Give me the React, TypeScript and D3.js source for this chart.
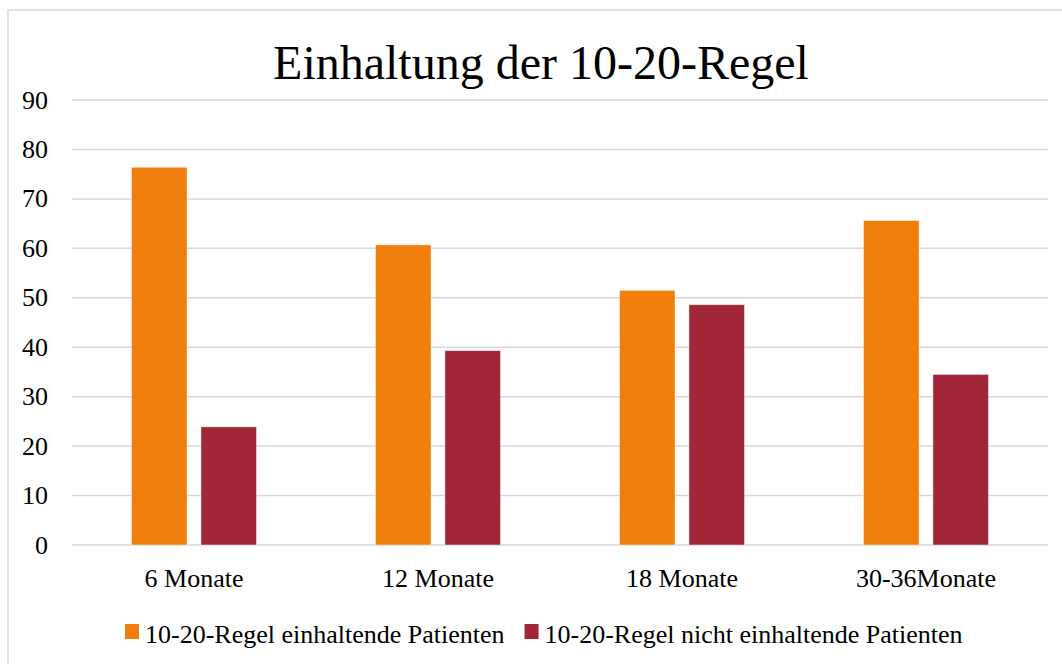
import React from 'react';
import * as d3 from 'd3';

const categories = ['6 Monate', '12 Monate', '18 Monate', '30-36Monate'];
const seriesNames = ['10-20-Regel einhaltende Patienten', '10-20-Regel nicht einhaltende Patienten'];
const compliant = [76.4, 60.7, 51.5, 65.6];
const nonCompliant = [23.9, 39.3, 48.6, 34.5];
const yTicks = [0, 10, 20, 30, 40, 50, 60, 70, 80, 90];
const seriesColors = ['#EF7F0A', '#A02638'];

const width = 1062;
const height = 664;
const font = 'Liberation Serif';

export default function App() {
    const svgRef = React.useRef<SVGSVGElement>(null);

    React.useEffect(() => {
        if (!svgRef.current) return;
        const svg = d3.select(svgRef.current);
        svg.selectAll('*').remove();

        const plotLeft = 72;
        const plotRight = 1048;
        const plotTop = 100;
        const plotBottom = 545;

        // chart frame
        svg.append('rect')
            .attr('x', 8).attr('y', 10)
            .attr('width', 1070).attr('height', 670)
            .attr('fill', 'white')
            .attr('stroke', '#d9d9d9')
            .attr('stroke-width', 1.5);

        svg.append('text')
            .attr('x', 541).attr('y', 79)
            .attr('text-anchor', 'middle')
            .attr('font-family', font)
            .attr('font-size', 48)
            .attr('fill', '#000')
            .text('Einhaltung der 10-20-Regel');

        const y = d3.scaleLinear().domain([0, 90]).range([plotBottom, plotTop]);

        const x0 = d3.scaleBand<string>()
            .domain(categories)
            .range([plotLeft, plotRight])
            .paddingInner(0.4877)
            .paddingOuter(0.4877 / 2);

        const x1 = d3.scaleBand<string>()
            .domain(seriesNames)
            .range([0, x0.bandwidth()])
            .paddingInner(0.2)
            .paddingOuter(0);

        // gridlines
        svg.append('g')
            .selectAll('line')
            .data(yTicks)
            .enter()
            .append('line')
            .attr('x1', plotLeft).attr('x2', plotRight)
            .attr('y1', d => y(d)).attr('y2', d => y(d))
            .attr('stroke', '#d9d9d9')
            .attr('stroke-width', 1.5);

        // y labels
        svg.append('g')
            .selectAll('text')
            .data(yTicks)
            .enter()
            .append('text')
            .attr('x', 48)
            .attr('y', d => y(d) + 8.5)
            .attr('text-anchor', 'end')
            .attr('font-family', font)
            .attr('font-size', 26)
            .attr('fill', '#000')
            .text(d => d);

        const allSeries = [compliant, nonCompliant];

        const groups = svg.append('g')
            .selectAll('g')
            .data(categories)
            .enter()
            .append('g')
            .attr('transform', d => `translate(${x0(d)},0)`);

        groups.selectAll('rect')
            .data((c, ci) => seriesNames.map((s, si) => ({ s, si, v: allSeries[si][ci] })))
            .enter()
            .append('rect')
            .attr('x', d => x1(d.s)!)
            .attr('y', d => y(d.v))
            .attr('width', x1.bandwidth())
            .attr('height', d => y(0) - y(d.v))
            .attr('fill', d => seriesColors[d.si])
            .attr('stroke', '#fff')
            .attr('stroke-opacity', 0.6)
            .attr('stroke-width', 0.75);

        // category labels
        svg.append('g')
            .selectAll('text')
            .data(categories)
            .enter()
            .append('text')
            .attr('x', d => x0(d)! + x0.bandwidth() / 2)
            .attr('y', 587)
            .attr('text-anchor', 'middle')
            .attr('font-family', font)
            .attr('font-size', 26)
            .attr('fill', '#000')
            .text(d => d);

        // legend
        const legend = svg.append('g');
        let lx = 125;
        seriesNames.forEach((name, i) => {
            legend.append('rect')
                .attr('x', lx).attr('y', 624)
                .attr('width', 14).attr('height', 15)
                .attr('fill', seriesColors[i]);
            const t = legend.append('text')
                .attr('x', lx + 20).attr('y', 643)
                .attr('font-family', font)
                .attr('font-size', 26)
                .attr('fill', '#000')
                .text(name);
            const w = (t.node() as SVGTextElement).getComputedTextLength();
            lx = lx + 20 + w + 20;
        });
    }, []);

    return (
        <svg
            ref={svgRef}
            width={width}
            height={height}
            style={{ position: 'absolute', left: 0, top: 0, background: '#fff' }}
        />
    );
}
